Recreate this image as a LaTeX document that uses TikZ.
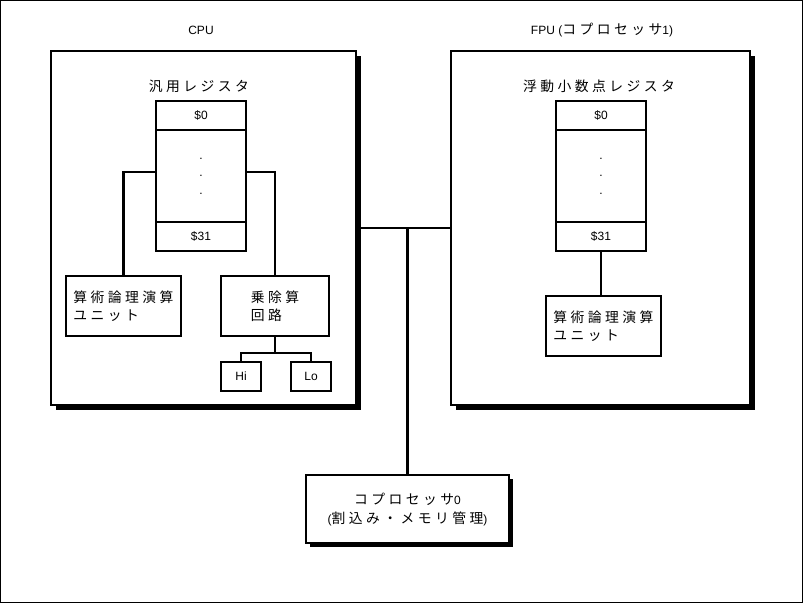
\documentclass[tikz,border=0pt]{standalone}
\usepackage{fontspec}
\setmainfont{Liberation Sans}
\newfontfamily\jpfont[LetterSpace=25,Scale=1.15]{Noto Sans CJK JP}
\newcommand\jp[1]{{\jpfont #1}}
\usetikzlibrary{positioning,shadows}

\begin{document}
\begin{tikzpicture}[x=1pt,y=-1pt,
  unit/.style={draw,line width=1.6pt,fill=white,inner sep=0pt,
               font=\fontsize{12}{18}\selectfont,align=left},
  frame/.style={unit,drop shadow={shadow xshift=5pt,shadow yshift=-5pt,
                opacity=1,fill=black}},
  cell/.style={unit,align=center,minimum width=90pt,minimum height=29pt},
  wire/.style={line width=2.6pt},
  title/.style={font=\fontsize{12}{14}\selectfont},
]
\useasboundingbox (0,0) rectangle (803,603);
\draw[line width=1pt] (0.5,0.5) rectangle (802.5,602.5);

% CPU
\node[title] (cputitle) at (201,30) {CPU};
\node[frame,minimum width=305pt,minimum height=354pt] (cpu) at (203.5,228) {};
\node[title] (creglabel) at (199,86) {\jp{汎用レジスタ}};
\node[cell] (cr0) at (201,115.5) {\$0};
\node[cell,minimum height=92pt,font=\fontsize{12}{17.5}\selectfont] (cmid) at (201,176) {.\\.\\.};
\node[cell] (cr31) at (201,236.5) {\$31};
\node[unit,minimum width=115pt,minimum height=60pt] (calu) at (123.5,306)
  {\jp{算術論理演算}\\\jp{ユニット}};
\node[unit,minimum width=108pt,minimum height=60pt] (cmul) at (275,306)
  {\jp{乗除算}\\\jp{回路}};
\node[unit,minimum width=40pt,minimum height=29pt] (hi) at (241,376.5) {Hi};
\node[unit,minimum width=40pt,minimum height=29pt] (lo) at (311,376.5) {Lo};

\draw[wire] ([yshift=4pt]cmid.west) -| (calu.north);
\draw[wire] ([yshift=4pt]cmid.east) -| (cmul.north);
\coordinate (split) at ([yshift=-16pt]cmul.south);
\draw[wire] (cmul.south) -- (split);
\draw[wire] (hi.north) |- (split) -| (lo.north);

% FPU
\node[title] (fputitle) at (602,30) {FPU (\jp{コプロセッサ}1)};
\node[frame,minimum width=299pt,minimum height=354pt] (fpu) at (600.5,228) {};
\node[title] (freglabel) at (599,86) {\jp{浮動小数点レジスタ}};
\node[cell] (fr0) at (601,115.5) {\$0};
\node[cell,minimum height=92pt,font=\fontsize{12}{17.5}\selectfont] (fmid) at (601,176) {.\\.\\.};
\node[cell] (fr31) at (601,236.5) {\$31};
\node[unit,minimum width=115pt,minimum height=60pt] (falu) at (603.5,326)
  {\jp{算術論理演算}\\\jp{ユニット}};

\draw[wire] (fr31.south) -- (fr31.south |- falu.north);

% Coprocessor 0 and bus
\node[unit,align=center,minimum width=203pt,minimum height=68pt,
      font=\fontsize{12}{19}\selectfont,
      drop shadow={shadow xshift=4pt,shadow yshift=-4pt,opacity=1,fill=black}]
  (cp0) at (407.5,509) {\jp{コプロセッサ}0\\(\jp{割込み・メモリ管理})};

\draw[wire] (cpu.east) -- (fpu.west);
\draw[wire] (cp0.north) -- (cp0.north |- cpu.east);

\end{tikzpicture}
\end{document}
